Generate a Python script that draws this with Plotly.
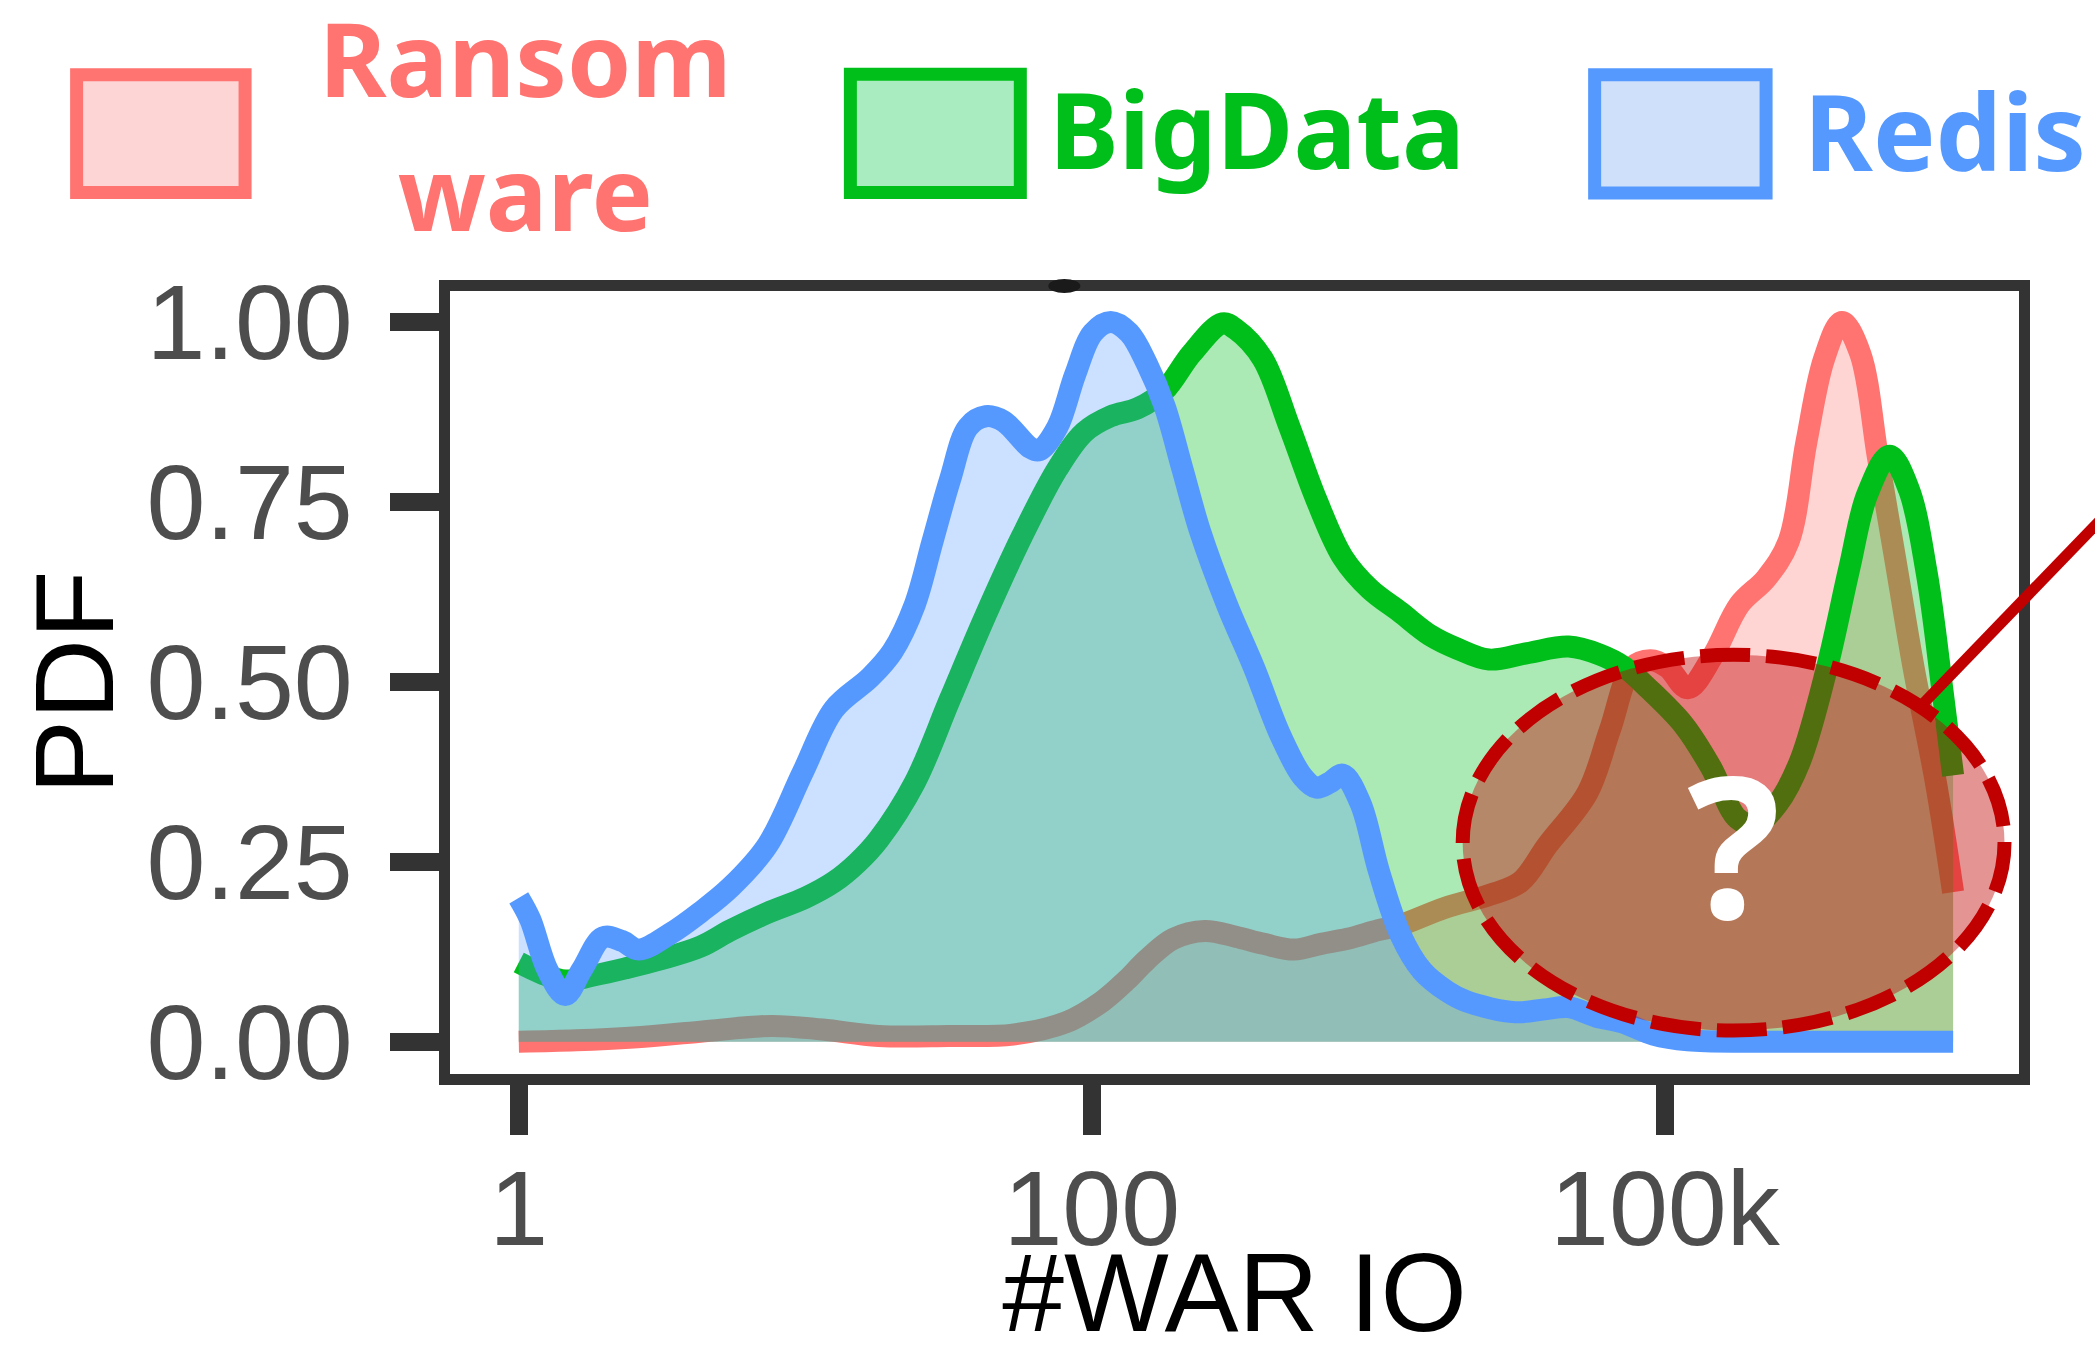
import plotly.graph_objects as go

# ---------------- data ----------------
# x axis positions: 0 -> "1", 1 -> "100", 2 -> "100k"
x_tick_pos = [0, 1, 2]
x_tick_labels = ["1", "100", "100k"]
y_tick_vals = [0, 0.25, 0.5, 0.75, 1.0]
y_tick_labels = ["0.00", "0.25", "0.50", "0.75", "1.00"]

series_names = ["Ransom<br>ware", "BigData", "Redis"]

ransom_x = [0.0, 0.1, 0.2, 0.317, 0.441, 0.53, 0.628, 0.75, 0.862, 0.955, 1.018, 1.06,
            1.096, 1.142, 1.197, 1.251, 1.30, 1.353, 1.40, 1.446, 1.50, 1.538, 1.616,
            1.694, 1.748, 1.795, 1.865, 1.904, 1.943, 1.975, 2.005, 2.040, 2.083, 2.130,
            2.177, 2.216, 2.247, 2.278, 2.309, 2.341, 2.372, 2.403, 2.434, 2.473, 2.503]
ransom_y = [0.0, 0.002, 0.006, 0.014, 0.022, 0.017, 0.008, 0.008, 0.010, 0.027, 0.056, 0.085,
            0.114, 0.143, 0.154, 0.146, 0.136, 0.128, 0.136, 0.143, 0.155, 0.162, 0.186,
            0.204, 0.222, 0.273, 0.346, 0.433, 0.520, 0.530, 0.520, 0.491, 0.535, 0.607,
            0.644, 0.695, 0.833, 0.949, 1.0, 0.956, 0.811, 0.666, 0.520, 0.360, 0.208]

bigdata_x = [0.0, 0.04, 0.081, 0.13, 0.186, 0.25, 0.317, 0.37, 0.434, 0.50, 0.550, 0.59,
             0.628, 0.691, 0.753, 0.815, 0.878, 0.940, 0.987, 1.033, 1.080, 1.127, 1.174,
             1.228, 1.251, 1.298, 1.345, 1.392, 1.438, 1.485, 1.538, 1.59, 1.638, 1.693,
             1.76, 1.832, 1.886, 1.93, 1.971, 2.033, 2.080, 2.127, 2.158, 2.197, 2.236,
             2.283, 2.322, 2.353, 2.392, 2.426, 2.457, 2.484, 2.503]
bigdata_y = [0.110, 0.095, 0.085, 0.092, 0.102, 0.115, 0.132, 0.155, 0.179, 0.200, 0.222, 0.248,
             0.281, 0.360, 0.477, 0.593, 0.702, 0.796, 0.847, 0.869, 0.880, 0.905, 0.956,
             0.998, 0.990, 0.949, 0.854, 0.753, 0.673, 0.629, 0.597, 0.565, 0.546, 0.531,
             0.540, 0.549, 0.538, 0.520, 0.491, 0.440, 0.382, 0.310, 0.302, 0.331, 0.390,
             0.520, 0.658, 0.760, 0.814, 0.767, 0.651, 0.491, 0.370]

redis_x = [0.0, 0.02, 0.05, 0.081, 0.11, 0.147, 0.18, 0.209, 0.264, 0.317, 0.37, 0.434,
           0.496, 0.550, 0.613, 0.652, 0.691, 0.722, 0.753, 0.784, 0.815, 0.846, 0.893,
           0.909, 0.940, 0.971, 1.002, 1.033, 1.065, 1.096, 1.127, 1.158, 1.189, 1.236,
           1.283, 1.329, 1.368, 1.392, 1.415, 1.438, 1.469, 1.501, 1.538, 1.576, 1.62,
           1.654, 1.739, 1.79, 1.832, 1.88, 1.925, 1.98, 2.04, 2.15, 2.3, 2.503]
redis_y = [0.200, 0.170, 0.100, 0.065, 0.100, 0.145, 0.140, 0.128, 0.150, 0.180, 0.215, 0.273,
           0.375, 0.462, 0.506, 0.542, 0.607, 0.695, 0.782, 0.854, 0.869, 0.862, 0.825,
           0.822, 0.854, 0.927, 0.985, 1.000, 0.985, 0.942, 0.883, 0.796, 0.709, 0.607,
           0.520, 0.426, 0.368, 0.353, 0.360, 0.371, 0.331, 0.237, 0.150, 0.099, 0.070,
           0.056, 0.041, 0.045, 0.048, 0.035, 0.027, 0.010, 0.002, 0.0, 0.0, 0.0]

line_colors = ["#FF7470", "#00BF1A", "#5599FF"]
fill_colors = ["rgba(255,116,112,0.30)", "rgba(0,191,26,0.33)", "rgba(85,153,255,0.30)"]
legend_fill = ["#FDD5D4", "#A8ECC0", "#CFE0FB"]

# ---------------- layout geometry (pixels) ----------------
W, H = 2095, 1355
L, R, T, B = 449.5, 2019, 291, 1074.5
PW, PH = R - L, B - T


def px(x):
    return (x - L) / PW


def py(y):
    return (B - y) / PH


fig = go.Figure()
for xs, ys, name, lc, fc in zip([ransom_x, bigdata_x, redis_x],
                                [ransom_y, bigdata_y, redis_y],
                                series_names, line_colors, fill_colors):
    fig.add_trace(go.Scatter(
        x=xs, y=ys, name=name, mode="lines",
        line=dict(color=lc, width=22, shape="spline", smoothing=1.0),
        fill="tozeroy", fillcolor=fc, showlegend=False,
    ))

axis_font = dict(family="Liberation Sans, Arial, Helvetica, sans-serif", size=106, color="#4D4D4D")
title_font = dict(family="Liberation Sans, Arial, Helvetica, sans-serif", size=111, color="#000000")

fig.update_xaxes(
    range=[-0.120, 2.618], tickvals=x_tick_pos, ticktext=x_tick_labels,
    showgrid=False, zeroline=False, showline=True, mirror=True, linewidth=11, linecolor="#333333",
    ticks="outside", ticklen=50, tickwidth=18, tickcolor="#333333",
    tickfont=axis_font, ticklabelstandoff=-17,
    title=dict(text="#WAR IO", font=title_font, standoff=31),
)
fig.update_yaxes(
    range=[-0.0448, 1.043], tickvals=y_tick_vals, ticktext=y_tick_labels,
    showgrid=False, zeroline=False, showline=True, mirror=True, linewidth=11, linecolor="#333333",
    ticks="outside", ticklen=49, tickwidth=18, tickcolor="#333333",
    tickfont=axis_font, ticklabelstandoff=16,
    title=dict(text="PDF", font=dict(title_font, size=112), standoff=0),
)

shapes = []
annotations = []

# manual legend
legend_boxes = [(76, 74.5, 244.5, 192.5), (850, 74, 1020, 192.5), (1594.5, 74.5, 1766, 193)]
for (x0, y0, x1, y1), lc, lf in zip(legend_boxes, line_colors, legend_fill):
    shapes.append(dict(type="rect", xref="paper", yref="paper",
                       x0=px(x0), x1=px(x1), y0=py(y1), y1=py(y0),
                       line=dict(color=lc, width=13), fillcolor=lf, layer="above"))

leg_font = dict(family="Noto Sans, DejaVu Sans, sans-serif", size=103, weight="bold")
annotations.append(dict(text="Ransom<br>ware", x=px(525), y=py(124), xref="paper", yref="paper",
                        xanchor="center", yanchor="middle", showarrow=False, align="center",
                        font=dict(leg_font, color=line_colors[0])))
annotations.append(dict(text="BigData", x=px(1257), y=py(128.6), xref="paper", yref="paper",
                        xanchor="center", yanchor="middle", showarrow=False,
                        font=dict(leg_font, size=105, color=line_colors[1])))
annotations.append(dict(text="Redis", x=px(1802), y=py(130), xref="paper", yref="paper",
                        xanchor="left", yanchor="middle", showarrow=False,
                        font=dict(leg_font, size=105, color=line_colors[2])))

# highlighted region with question mark
shapes.append(dict(type="circle", xref="paper", yref="paper",
                   x0=px(1462.5), x1=px(2004.5), y0=py(1031), y1=py(655),
                   line=dict(color="#C00000", width=14, dash="50px,16px"),
                   fillcolor="rgba(192,0,0,0.42)", layer="above"))
shapes.append(dict(type="line", xref="paper", yref="paper",
                   x0=px(1923), y0=py(704), x1=px(2115), y1=py(505),
                   line=dict(color="#C00000", width=11), layer="above"))
annotations.append(dict(text="?", x=px(1733), y=py(843), xref="paper", yref="paper",
                        xanchor="center", yanchor="middle", showarrow=False,
                        font=dict(family="Noto Sans, DejaVu Sans, sans-serif", size=195,
                                  weight="bold", color="#FFFFFF")))
# small dark mark on top frame
shapes.append(dict(type="circle", xref="paper", yref="paper",
                   x0=px(1048), x1=px(1080), y0=py(293), y1=py(279),
                   line=dict(width=0), fillcolor="#1A1A1A", layer="above"))

fig.update_layout(
    width=W, height=H, margin=dict(l=L, r=W - R, t=T, b=H - B, autoexpand=False),
    paper_bgcolor="#FFFFFF", plot_bgcolor="#FFFFFF",
    shapes=shapes, annotations=annotations, showlegend=False,
)

fig.write_html("out.html", config={"displayModeBar": False},
               post_script="document.body.style.margin='0';document.body.style.overflow='hidden';")
